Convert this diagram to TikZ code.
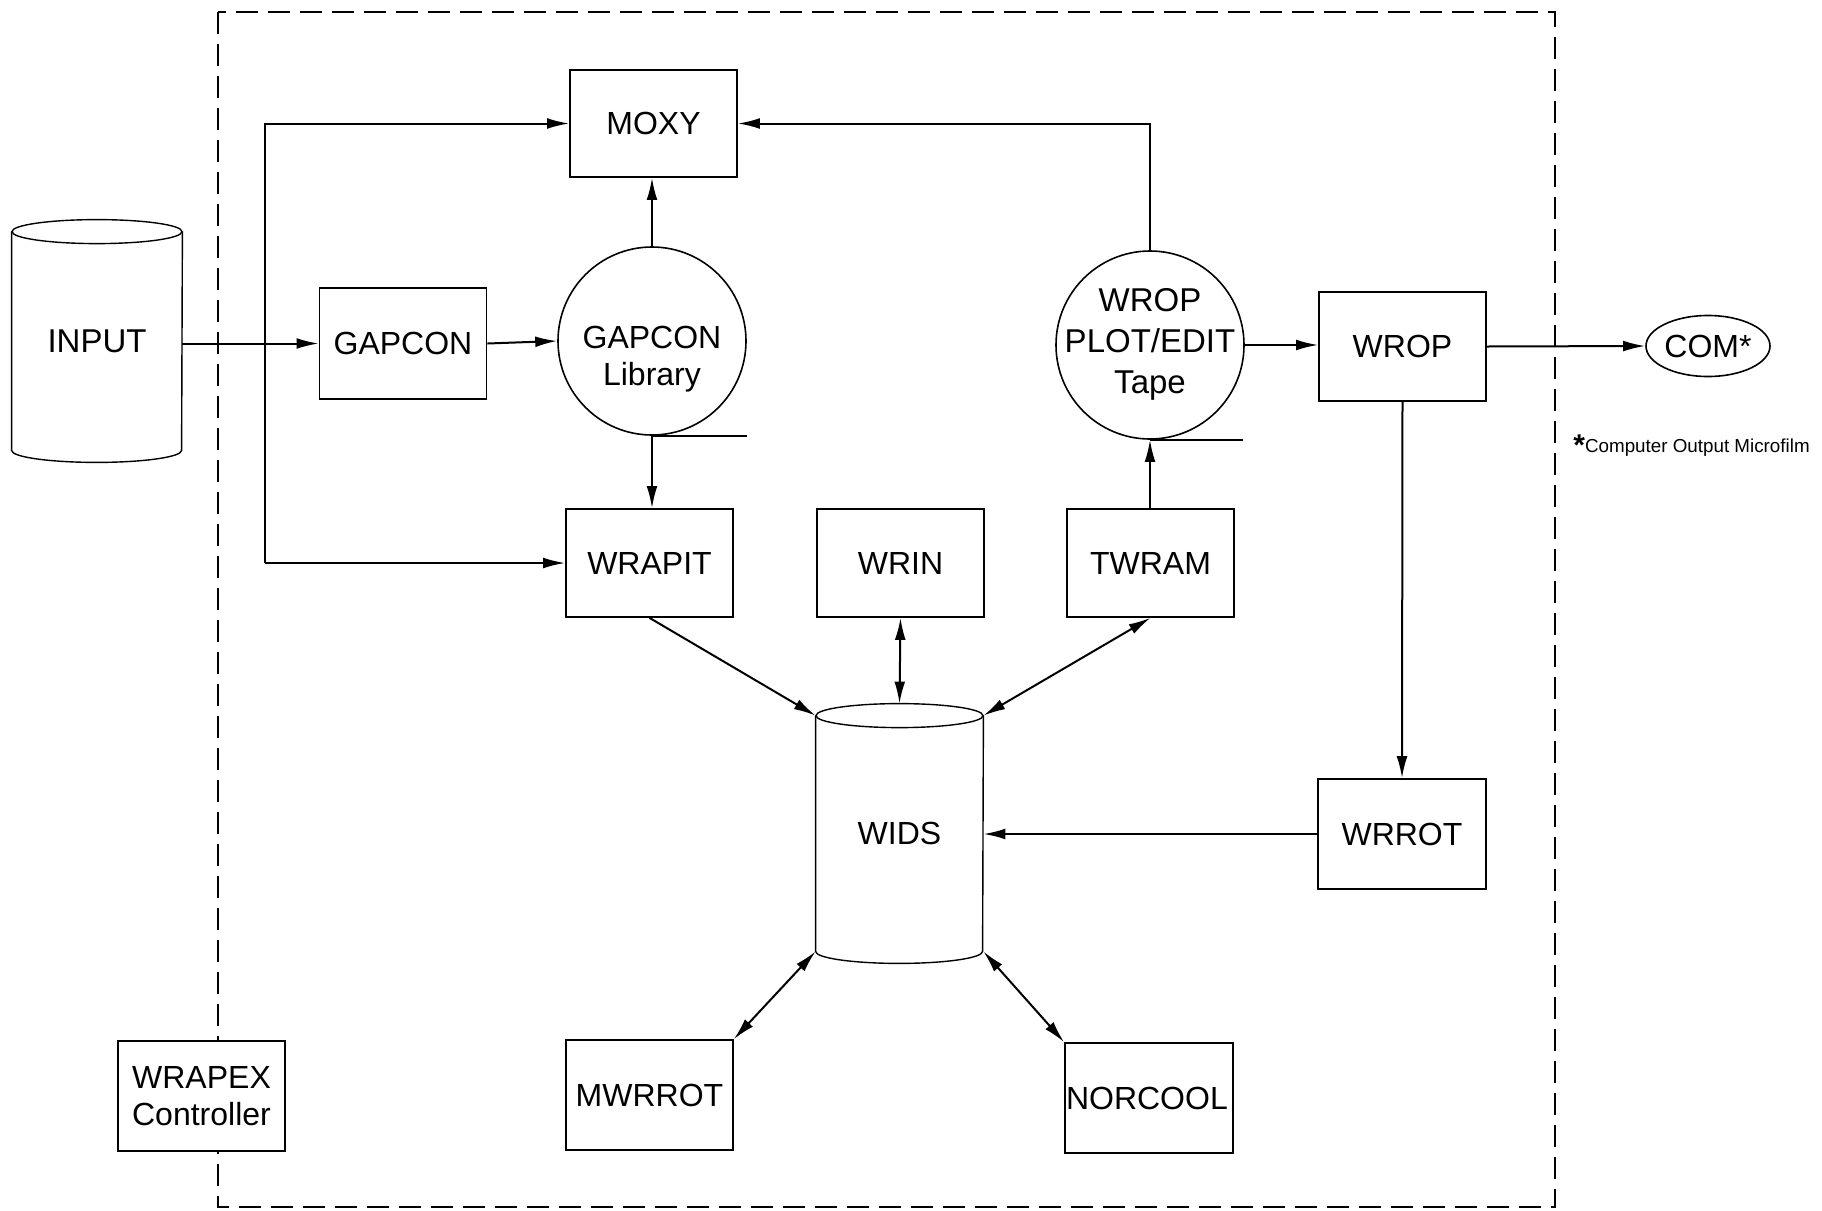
\documentclass[tikz,border=0pt]{standalone}
\usepackage{fontspec}
\setmainfont{Liberation Sans}
\usetikzlibrary{arrows.meta,shapes.geometric}
\tikzset{
  base/.style={font=\fontsize{16}{18.5}\selectfont, inner sep=0pt},
  boxnode/.style={base, draw, line width=0.85pt, minimum width=83.5pt, minimum height=54pt, align=center},
  tapenode/.style={draw, line width=0.8pt, circle, minimum size=94pt, inner sep=0pt},
  lbl/.style={base, align=center},
  cyl/.style={base, minimum width=84pt, align=center},
  conn/.style={line width=1pt},
  arr/.style={conn, -{Latex[length=11pt,width=5.4pt]}},
  darr/.style={conn, {Latex[length=11pt,width=5.4pt]}-{Latex[length=11pt,width=5.4pt]}},
  frame/.style={line width=1.2pt, dash pattern=on 11pt off 5pt}
}
\begin{document}
\begin{tikzpicture}[x=0.5pt,y=-0.5pt]
\useasboundingbox[fill=white] (0,0) rectangle (1822,1211);

% dashed frame
\draw[frame] (218,12) rectangle (1555,1207);

% INPUT cylinder
\node[cyl, minimum width=85pt, minimum height=109pt, font=\fontsize{16.5}{18.5}\selectfont] (input) at (97,341) {INPUT};
\draw[line width=0.7pt] (input.north) ellipse [x radius=85, y radius=12];
\draw[line width=0.7pt] (input.north west) -- (input.south west)
  arc [start angle=180, end angle=0, x radius=85, y radius=12] -- (input.north east);

% boxes
\node[boxnode, minimum height=53.5pt] (moxy) at (653.5,123.5) {MOXY};
\node[boxnode, minimum height=55.5pt] (gapcon) at (403,343.5) {GAPCON};
\node[boxnode] (wrapit) at (649.5,563) {WRAPIT};
\node[boxnode] (wrin) at (900.5,563) {WRIN};
\node[boxnode] (twram) at (1150.5,563) {TWRAM};
\node[boxnode, minimum height=54.5pt] (wrop) at (1402.5,346.5) {WROP};
\node[boxnode, minimum width=84pt, minimum height=55pt] (wrrot) at (1402,834) {WRROT};
\node[boxnode, minimum height=55pt] (mwrrot) at (649.5,1095) {MWRROT};
\node[boxnode, minimum width=84pt, minimum height=55pt, text width=83pt, align=left, inner xsep=0.5pt] (norcool) at (1149,1098) {NORCOOL};
\node[boxnode, fill=white, minimum height=55pt] (wrapex) at (201.5,1096) {WRAPEX\\Controller};

% tapes (circles)
\node[tapenode] (gapconlib) at (652,341) {};
\node[lbl] (gapconlibtext) at (652,359) {GAPCON\\Library};
\node[tapenode] (wropc) at (1150,345) {};
\node[lbl, font=\fontsize{16.5}{20.5}\selectfont] (wropctext) at (1150,344) {WROP\\PLOT/EDIT\\Tape};
\draw[line width=0.7pt] (gapconlib.south) -- ++(95,0);
\draw[line width=0.7pt] (wropc.south) -- ++(93,0);

% COM ellipse
\node[base, draw, line width=0.8pt, ellipse, minimum width=62pt, minimum height=30.5pt] (com) at (1708,346) {COM*};

% footnote
\node[base, anchor=west] (footnote) at (1573,446) {{\fontsize{15}{15}\selectfont\raisebox{-1.5pt}{\textbf{*}}}{\fontsize{9.4}{10}\selectfont Computer Output Microfilm}};

% WIDS cylinder
\node[cyl, minimum width=83.5pt, minimum height=117.5pt] (wids) at (899.5,833.5) {WIDS};
\draw[line width=0.7pt] (wids.north) ellipse [x radius=83.5, y radius=12];
\draw[line width=0.7pt] (wids.north west) -- (wids.south west)
  arc [start angle=180, end angle=0, x radius=83.5, y radius=12] -- (wids.north east);
\coordinate (widstop) at ([yshift=6pt]wids.north);

% connectors
\coordinate (busA) at (265,123.5);
\coordinate (busB) at (265,563);
\draw[arr] (gapcon.west -| input.east) -- (gapcon.west);
\draw[arr] (busB) -- (busA) -- (moxy.west);
\draw[arr] (busB) -- (wrapit.west);
\draw[arr] (gapcon.east) -- (gapconlib.west);
\draw[arr] (gapconlib.north) -- (moxy.south -| gapconlib.north);
\draw[arr] (gapconlib.south) -- (wrapit.north -| gapconlib.south);
\draw[arr] (wropc.north) -- (wropc.north |- moxy.east) -- (moxy.east);
\draw[arr] (twram.north -| wropc.south) -- (wropc.south);
\draw[arr] (wropc.east) -- (wrop.west |- wropc.east);
\draw[arr] (wrop.east) -- (com.west);
\draw[arr] (wrop.south) -- (wrrot.north);
\draw[arr] (wrrot.west) -- (wrrot.west -| wids.east);
\draw[arr] (wrapit.south) -- (wids.north west);
\draw[darr] (wrin.south) -- (widstop);
\draw[darr] (twram.south) -- (wids.north east);
\draw[darr] (mwrrot.north east) -- (wids.south west);
\draw[darr] (norcool.north west) -- (wids.south east);
\end{tikzpicture}
\end{document}
